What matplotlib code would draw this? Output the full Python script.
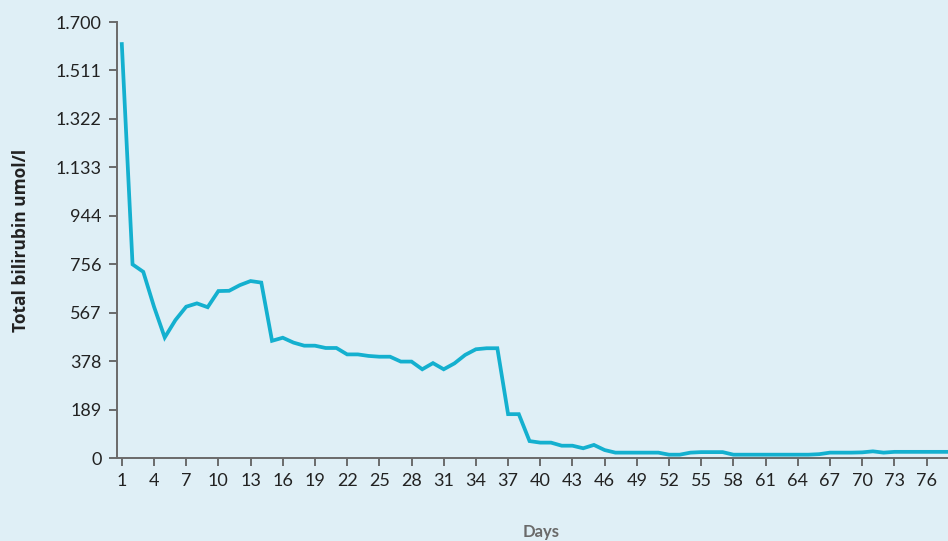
import numpy as np
import matplotlib
matplotlib.use('Agg')
import matplotlib.pyplot as plt

plt.rcParams['font.family'] = ['Lato', 'DejaVu Sans']

days = np.arange(1, 79)
bilirubin = [1614, 755, 726, 590, 470, 538, 590, 603, 588, 651,
             652, 674, 690, 684, 457, 469, 450, 438, 438, 429,
             429, 404, 404, 398, 395, 395, 376, 376, 346, 370,
             346, 369, 402, 424, 428, 428, 171, 171, 66, 60,
             60, 48, 48, 38, 51, 31, 21, 21, 21, 21,
             21, 13, 13, 21, 23, 23, 23, 13, 13, 13,
             13, 13, 13, 13, 13, 15, 21, 21, 21, 22,
             26, 21, 24, 24, 24, 24, 24, 24]

ytick_vals = [0, 189, 378, 567, 756, 944, 1133, 1322, 1511, 1700]
ytick_labels = ['0', '189', '378', '567', '756', '944', '1.133', '1.322', '1.511', '1.700']
xtick_vals = list(range(1, 77, 3))

bg = '#dfeff6'
fig = plt.figure(figsize=(9.48, 5.41), dpi=100, facecolor=bg)
ax = fig.add_axes([0.1234, 0.1534, 0.8766, 0.8059])
ax.set_facecolor(bg)

ax.plot(days, bilirubin, color='#14b0cf', linewidth=2.7, solid_joinstyle='miter')

ax.set_xlim(0.55, 78)
ax.set_ylim(0, 1700)
ax.set_yticks(ytick_vals)
ax.set_yticklabels(ytick_labels)
ax.set_xticks(xtick_vals)

for s in ['top', 'right']:
    ax.spines[s].set_visible(False)
for s in ['left', 'bottom']:
    ax.spines[s].set_color('#6a6a6a')
    ax.spines[s].set_linewidth(1.4)

ax.tick_params(axis='both', direction='out', length=6, width=1.2, color='#555555',
               labelsize=13, labelcolor='#222222', pad=5)

ax.set_ylabel('Total bilirubin umol/l', fontsize=12.5, fontweight='bold', color='#222222',
              family=['Open Sans', 'DejaVu Sans'])
ax.yaxis.set_label_coords(-0.105, 0.5)
ax.set_xlabel('Days', fontsize=12, fontweight='bold', color='#6a6a6a', va='center')
ax.xaxis.set_label_coords(0.51, -0.17)

plt.savefig('out.png', dpi=100, facecolor=bg)
